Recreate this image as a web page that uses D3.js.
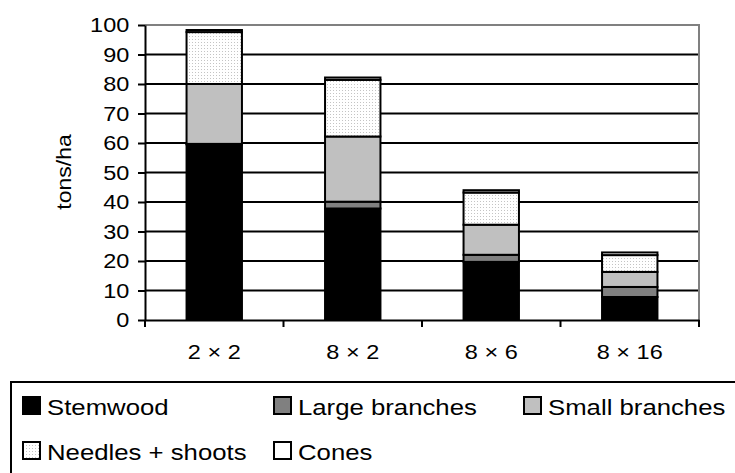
<!DOCTYPE html>
<html>
<head>
<meta charset="utf-8">
<script src="https://cdn.jsdelivr.net/npm/d3@7"></script>
<style>
  body { margin: 0; background: #fff; }
  text { font-family: "Liberation Sans", Arial, sans-serif; fill: #000; }
</style>
</head>
<body>
<div id="chart"></div>
<script>
// data (tons/ha)
const categories = ["2 × 2", "8 × 2", "8 × 6", "8 × 16"];
const stemwood      = [59.5, 37.8, 19.7, 7.8];
const largeBranches = [0.2, 2.3, 2.4, 3.4];
const smallBranches = [20.3, 22.1, 10.2, 5.1];
const needles       = [17.6, 19.2, 10.9, 5.7];
const cones         = [0.7, 0.8, 0.8, 0.9];
const seriesNames = ["Stemwood", "Large branches", "Small branches", "Needles + shoots", "Cones"];
const yTicks = [0, 10, 20, 30, 40, 50, 60, 70, 80, 90, 100];

const W = 735, H = 473;
const plot = { left: 145, right: 699, top: 25, bottom: 320 };

const svg = d3.select("#chart").append("svg")
    .attr("width", W).attr("height", H);

// dotted fill for the needles segment
const defs = svg.append("defs");
const pat = defs.append("pattern").attr("id", "dots")
    .attr("width", 3).attr("height", 3).attr("patternUnits", "userSpaceOnUse");
pat.append("rect").attr("width", 3).attr("height", 3).attr("fill", "#fff");
pat.append("rect").attr("width", 1).attr("height", 1).attr("fill", "#c4c4c4");

const fills = ["#000000", "#808080", "#c0c0c0", "url(#dots)", "#ffffff"];

const x = d3.scaleBand().domain(categories).range([plot.left, plot.right]).padding(0);
const y = d3.scaleLinear().domain([0, 100]).range([plot.bottom, plot.top]);

// stack the series
const table = categories.map((c, i) => ({
  cat: c,
  "Stemwood": stemwood[i],
  "Large branches": largeBranches[i],
  "Small branches": smallBranches[i],
  "Needles + shoots": needles[i],
  "Cones": cones[i]
}));
const stacked = d3.stack().keys(seriesNames)(table);

// gridlines
svg.append("g").selectAll("line")
  .data(yTicks.filter(d => d > 0 && d < 100))
  .join("line")
    .attr("x1", plot.left).attr("x2", plot.right)
    .attr("y1", d => y(d)).attr("y2", d => y(d))
    .attr("stroke", "#000").attr("stroke-width", 2);

// plot area border (top and right show in gray)
svg.append("path")
    .attr("d", `M${plot.left},${y(100)}H${plot.right}V${plot.bottom}`)
    .attr("fill", "none").attr("stroke", "#808080").attr("stroke-width", 2);

// bars
const barW = x.bandwidth() * 0.4;
svg.append("g").selectAll("g")
  .data(stacked)
  .join("g")
    .attr("fill", (d, i) => fills[i])
  .selectAll("rect")
  .data(d => d)
  .join("rect")
    .attr("x", d => x(d.data.cat) + x.bandwidth() / 2 - barW / 2)
    .attr("width", barW)
    .attr("y", d => y(d[1]))
    .attr("height", d => y(d[0]) - y(d[1]))
    .attr("stroke", "#000").attr("stroke-width", 2);

// axes
const sx = 1.12; // the source text is drawn a bit wide
const yAxis = svg.append("g")
    .attr("transform", `translate(${plot.left},0)`)
    .call(d3.axisLeft(y).tickValues(yTicks).tickSize(7).tickSizeOuter(0).tickPadding(7));
yAxis.select(".domain").attr("stroke-width", 2);
yAxis.selectAll(".tick line").attr("stroke-width", 2);
yAxis.selectAll("text")
    .attr("font-size", 21).attr("font-family", "Liberation Sans, Arial, sans-serif")
    .attr("transform", `scale(${sx},1)`);

const xAxis = svg.append("g")
    .attr("transform", `translate(0,${plot.bottom})`)
    .call(d3.axisBottom(x).tickSize(0).tickSizeOuter(0).tickPadding(24));
xAxis.select(".domain").attr("stroke-width", 2);
xAxis.selectAll(".tick text")
    .attr("font-size", 21).attr("font-family", "Liberation Sans, Arial, sans-serif")
    .attr("transform", `scale(${sx},1)`)
    .attr("x", 0);

// tick marks between categories
svg.append("g").selectAll("line")
  .data(categories.map(c => x(c)).concat([plot.right]))
  .join("line")
    .attr("x1", d => d).attr("x2", d => d)
    .attr("y1", plot.bottom).attr("y2", plot.bottom + 7)
    .attr("stroke", "#000").attr("stroke-width", 2);

svg.append("text")
    .attr("transform", `translate(64,172) rotate(-90) scale(1.15,1)`)
    .attr("text-anchor", "middle")
    .attr("dy", "0.35em")
    .attr("font-size", 20)
    .text("tons/ha");

// legend
svg.append("rect")
    .attr("x", 11).attr("y", 382).attr("width", 800).attr("height", 200)
    .attr("fill", "#fff").attr("stroke", "#000").attr("stroke-width", 2);

const legCols = [23, 274, 524];
const legRows = [397, 442];
const leg = svg.append("g").selectAll("g")
  .data(seriesNames)
  .join("g")
    .attr("transform", (d, i) => `translate(${legCols[i % 3]},${legRows[Math.floor(i / 3)]})`);
leg.append("rect")
    .attr("width", 17).attr("height", 17)
    .attr("fill", (d, i) => fills[i])
    .attr("stroke", "#000").attr("stroke-width", 2);
leg.append("text")
    .attr("transform", `translate(24,17.5) scale(1.17,1)`)
    .attr("font-size", 22)
    .text(d => d);
</script>
</body>
</html>
